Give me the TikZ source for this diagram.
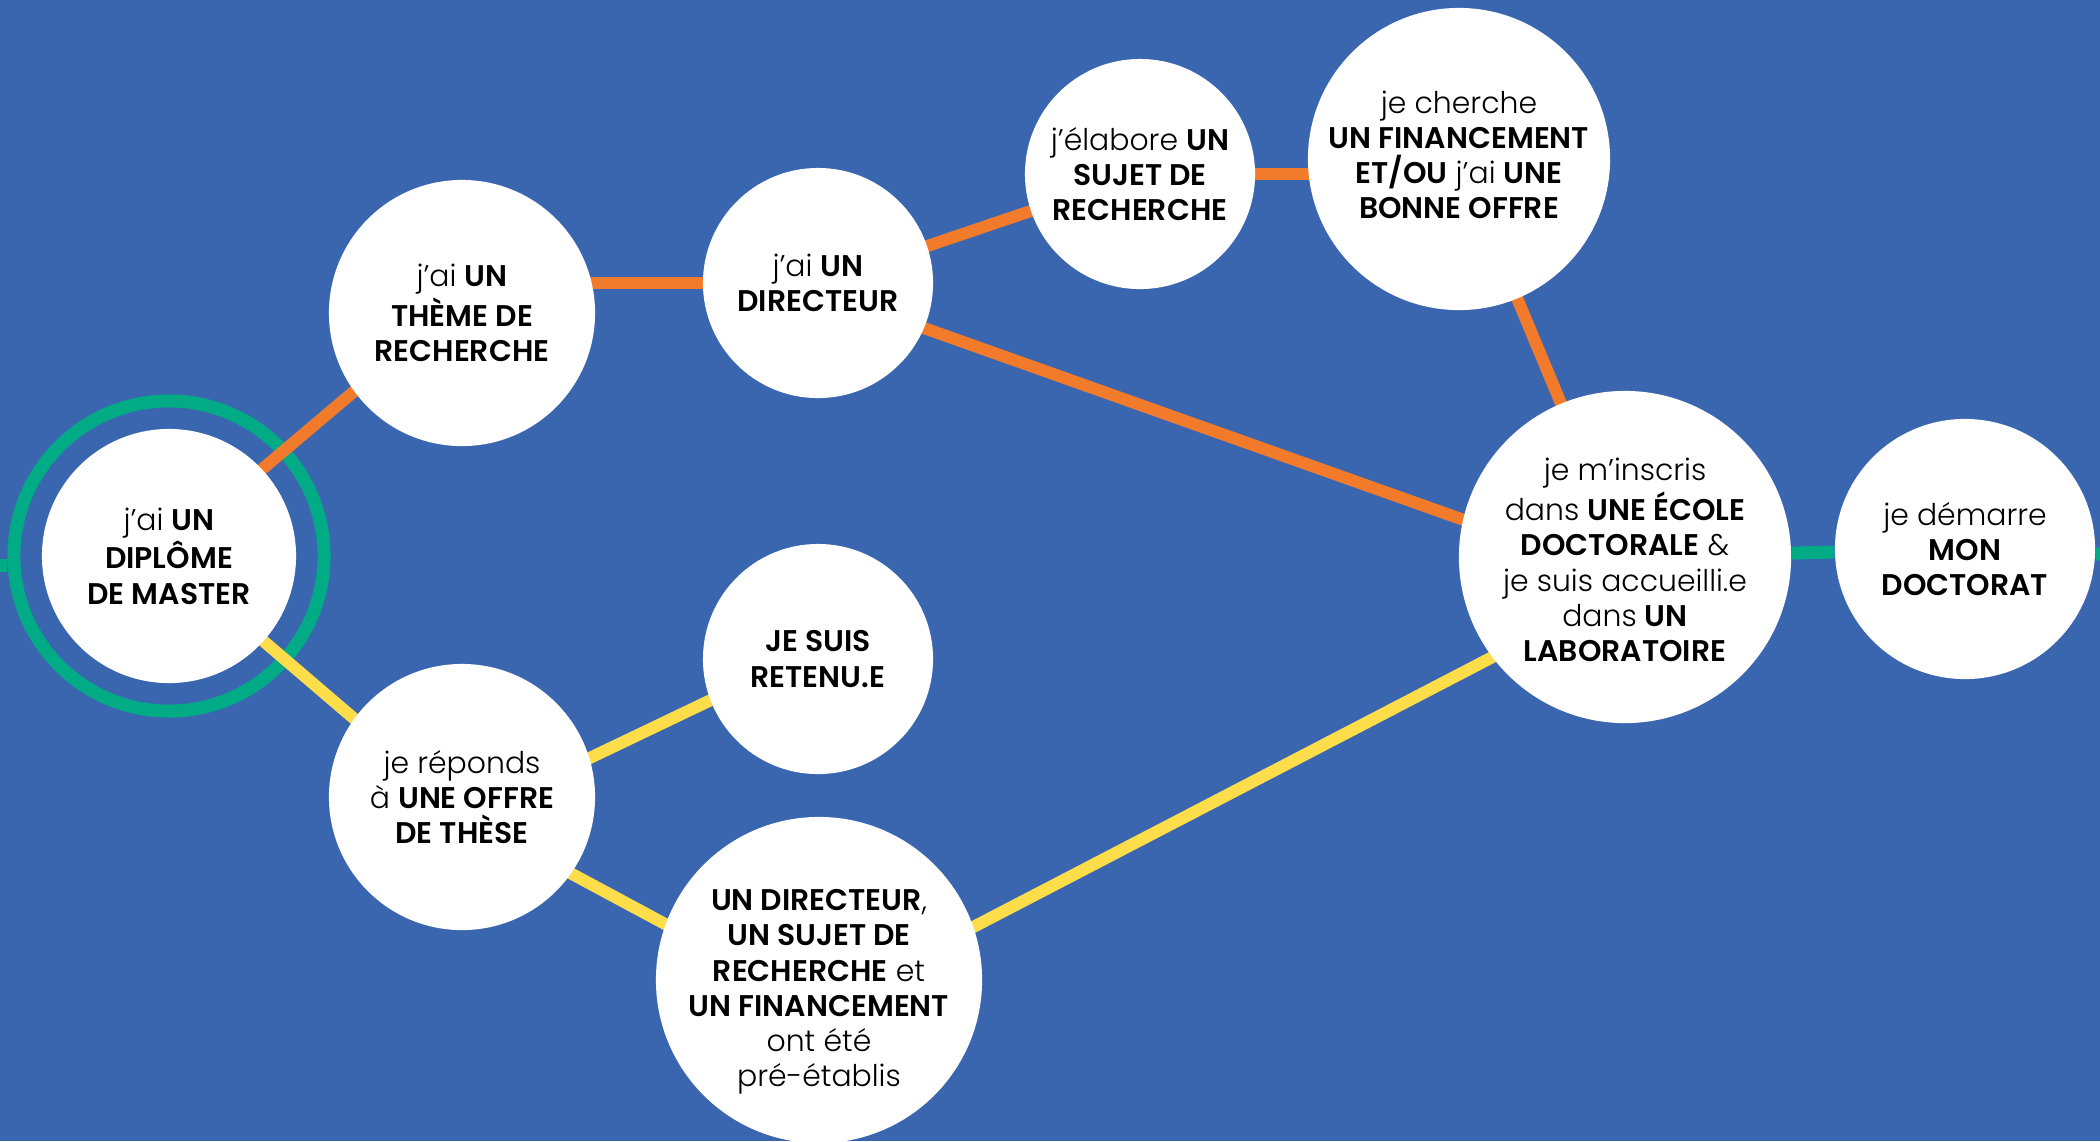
\documentclass[tikz,border=0pt]{standalone}
\usepackage{fontspec}
\setmainfont{Poppins Light}[BoldFont={Poppins SemiBold}]
\usetikzlibrary{calc}
\definecolor{bgblue}{HTML}{3A66B0}
\definecolor{lorange}{HTML}{F27A2B}
\definecolor{lyellow}{HTML}{FDDD4A}
\definecolor{lgreen}{HTML}{00AB86}
\pgfdeclarelayer{bg}
\pgfsetlayers{bg,main}
\begin{document}
\begin{tikzpicture}[x=0.01cm,y=-0.01cm,
  circ/.style={circle, fill=white, inner sep=0pt, minimum size=#1},
  txt/.style={align=center, inner sep=0pt, text=black, font=\fontsize{8.5}{10}\selectfont},
  oline/.style={draw=lorange, line width=0.12cm, shorten <=-0.2cm, shorten >=-0.2cm},
  yline/.style={draw=lyellow, line width=0.12cm, shorten <=-0.2cm, shorten >=-0.2cm},
  gline/.style={draw=lgreen, line width=0.13cm}]
\useasboundingbox (0,0) rectangle (2100,1141);
\clip (0,0) rectangle (2100,1141);
% circles
\node[circ=2.54cm] (master) at (169,556) {};
\node[circ=2.66cm] (theme)  at (462,313) {};
\node[circ=2.30cm] (dir)    at (818,283) {};
\node[circ=2.30cm] (sujet)  at (1140,174) {};
\node[circ=3.02cm] (fin)    at (1459,159) {};
\node[circ=3.32cm] (ecole)  at (1625,557) {};
\node[circ=2.60cm] (dem)    at (1965,549) {};
\node[circ=2.30cm] (retenu) at (818,659) {};
\node[circ=2.66cm] (offre)  at (462,797) {};
\node[circ=3.26cm] (pre)    at (819,980) {};
\coordinate (gin) at (0,565);
\coordinate (gout) at (2100,554);
% texts
\node[txt] (tmaster) at (master) {j’ai \textbf{UN}\\\textbf{DIPLÔME}\\\textbf{DE MASTER}};
\node[txt] (ttheme) at (theme) {j’ai \textbf{UN}\\\textbf{THÈME DE}\\\textbf{RECHERCHE}};
\node[txt] (tdir) at (dir) {j’ai \textbf{UN}\\\textbf{DIRECTEUR}};
\node[txt] (tsujet) at (sujet) {j’élabore \textbf{UN}\\\textbf{SUJET DE}\\\textbf{RECHERCHE}};
\node[txt] (tfin) at ($(fin)+(0,-4)$) {je cherche\\\textbf{UN FINANCEMENT}\\\textbf{ET/OU} j’ai \textbf{UNE}\\\textbf{BONNE OFFRE}};
\node[txt] (tecole) at ($(ecole)+(0,3)$) {je m’inscris\\dans \textbf{UNE ÉCOLE}\\\textbf{DOCTORALE} \&\\je suis accueilli.e\\dans \textbf{UN}\\\textbf{LABORATOIRE}};
\node[txt] (tdem) at (dem) {je démarre\\\textbf{MON}\\\textbf{DOCTORAT}};
\node[txt] (tretenu) at (retenu) {\textbf{JE SUIS}\\\textbf{RETENU.E}};
\node[txt] (toffre) at (offre) {je réponds\\à \textbf{UNE OFFRE}\\\textbf{DE THÈSE}};
\node[txt] (tpre) at ($(pre)+(0,12)$) {\textbf{UN DIRECTEUR},\\\textbf{UN SUJET DE}\\\textbf{RECHERCHE} et\\\textbf{UN FINANCEMENT}\\ont été\\pré-établis};
\begin{pgfonlayer}{bg}
\fill[bgblue] (0,0) rectangle (2100,1141);
\node[circle, draw=lgreen, line width=0.13cm, inner sep=0pt, minimum size=3.10cm] (ring) at (master) {};
\draw[gline] (gin) -- (gin -| ring.west);
\draw[gline] (ecole) -- (dem);
\draw[gline] (dem) -- (gout);
% orange path
\draw[oline] (master.43) -- (theme.216);
\draw[oline] (theme.center |- dir.center) -- (dir.center);
\draw[oline] (dir) -- (sujet);
\draw[oline] (sujet.center) -- (sujet.center -| fin.center);
\draw[oline] (fin) -- (ecole);
\draw[oline] (dir.-23) -- (ecole.167);
% yellow path
\draw[yline] (master.-42) -- (offre.144);
\draw[yline] (offre.17) -- (retenu.201);
\draw[yline] (offre.-35) -- (pre.160);
\draw[yline] (pre.19) -- (ecole.217);
\end{pgfonlayer}
\end{tikzpicture}
\end{document}
